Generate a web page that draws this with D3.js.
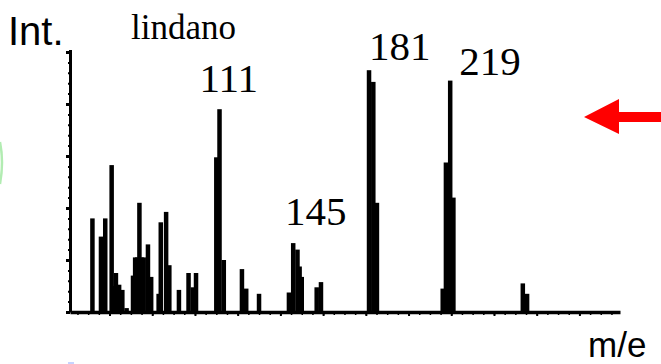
<!DOCTYPE html>
<html>
<head>
<meta charset="utf-8">
<script src="https://cdn.jsdelivr.net/npm/d3@7"></script>
<style>
  html, body { margin: 0; padding: 0; background: #fff; }
  svg { display: block; }
</style>
</head>
<body>
<div id="chart"></div>
<script>
// m/e of every line in the spectrum, and its relative intensity (%)
const mzValues = [
  52, 56, 58, 61, 62, 63, 64.5, 66, 68,
  71, 72, 73, 74, 75, 76, 78, 79.5,
  83, 84, 86.5, 88, 92.5, 97, 99, 100.5,
  110, 111.5, 113.5, 122, 124, 130,
  144, 146, 148, 149, 150, 157, 159,
  181.5, 183.5, 185.2,
  216, 217.5, 219.5, 221,
  253.5, 255.5
];
const intensities = [
  36, 29, 36, 56.5, 10, 15, 10.5, 8.5, 1.5,
  14, 21, 21, 42, 21, 21, 26, 13.5,
  7, 34.5, 38.5, 18, 8.5, 15, 9.5, 15,
  59.5, 78, 20, 16.5, 9, 7,
  7.5, 26.5, 24, 17.5, 13.5, 9.5, 11.5,
  93, 88.5, 42,
  9, 57.5, 89, 44,
  11, 7
];
const peakLabels = [111, 145, 181, 219];
const compoundName = 'lindano';
const yTitle = 'Int.';
const xTitle = 'm/e';

const W = 661, H = 364;

const svg = d3.select('#chart').append('svg').attr('width', W).attr('height', H);
svg.append('rect').attr('width', W).attr('height', H).attr('fill', '#fff');

const x = d3.scaleLinear().domain([41.5, 299]).range([70, 620]);
const y = d3.scaleLinear().domain([0, 101]).range([312, 49.4]);

// y axis: dotted scale like the scanned plot
const yAxis = d3.axisLeft(y).tickValues(d3.range(0, 101, 20)).tickSize(4).tickSizeOuter(0).tickFormat('');
const gy = svg.append('g').attr('transform', `translate(${x(41.5)},0)`).call(yAxis);
gy.select('.domain').attr('stroke', '#000').attr('stroke-width', 3);
gy.selectAll('.tick line').attr('stroke', '#000').attr('stroke-width', 3);
svg.append('g').attr('transform', `translate(${x(41.5)},0)`)
  .call(d3.axisLeft(y).tickValues(d3.range(0, 101, 4)).tickSize(2).tickFormat(''))
  .call(g => g.select('.domain').remove())
  .selectAll('.tick line').attr('stroke', '#000').attr('stroke-width', 2);

// bars
const barW = 4.5;
svg.append('g').selectAll('rect')
  .data(mzValues.map((m, i) => ({ m, v: intensities[i] })))
  .join('rect')
  .attr('x', d => x(d.m) - barW / 2)
  .attr('y', d => y(d.v))
  .attr('width', barW)
  .attr('height', d => y(0) - y(d.v))
  .attr('fill', '#000');

// x axis (baseline)
const xAxis = d3.axisBottom(x).tickValues(d3.range(60, 300, 20)).tickSize(4).tickSizeOuter(0).tickFormat('');
const gx = svg.append('g').attr('transform', `translate(0,${y(0)})`).call(xAxis);
gx.select('.domain').attr('stroke', '#000').attr('stroke-width', 3.5);
gx.selectAll('.tick line').attr('stroke', '#000').attr('stroke-width', 2);
svg.append('g').attr('transform', `translate(0,${y(0) + 1})`)
  .call(d3.axisBottom(x).tickValues(d3.range(45, 300, 5)).tickSize(2).tickFormat(''))
  .call(g => g.select('.domain').remove())
  .selectAll('.tick line').attr('stroke', '#000').attr('stroke-width', 1.5);

// peak labels
const serif = '"Liberation Serif", "Times New Roman", serif';
const sans = '"Liberation Sans", Arial, sans-serif';
const labelPos = { 111: [-19, 92], 145: [-6, 225], 181: [1, 60], 219: [10, 75] };
svg.append('g').selectAll('text')
  .data(peakLabels)
  .join('text')
  .attr('x', d => x(d) + labelPos[d][0])
  .attr('y', d => labelPos[d][1])
  .attr('font-family', serif)
  .attr('font-size', 41)
  .attr('fill', '#000')
  .text(d => d);

svg.append('text').attr('x', 131).attr('y', 39)
  .attr('font-family', serif).attr('font-size', 35).text(compoundName);

svg.append('text').attr('x', 8).attr('y', 45)
  .attr('font-family', sans).attr('font-size', 40).text(yTitle);

svg.append('text').attr('x', 588).attr('y', 357)
  .attr('font-family', sans).attr('font-size', 35).text(xTitle);

// red arrow pointing left
svg.append('path')
  .attr('d', 'M584,117 L619,99 L619,112 L661,112 L661,122 L619,122 L619,134 Z')
  .attr('fill', '#ff0000');

// bits of the slide around the scan
svg.append('path')
  .attr('d', 'M0,142 Q4,162 0,184')
  .attr('fill', 'none').attr('stroke', '#3ecf3e').attr('stroke-width', 2.5).attr('opacity', 0.4);
svg.append('rect').attr('x', 68).attr('y', 362).attr('width', 6).attr('height', 2)
  .attr('fill', '#8fa8ff').attr('opacity', 0.5);
</script>
</body>
</html>
